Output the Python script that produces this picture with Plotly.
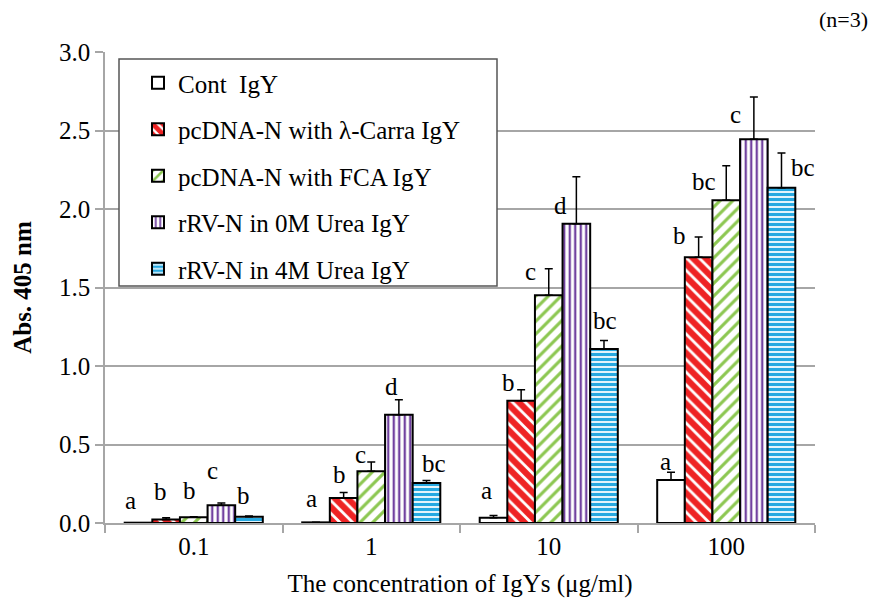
import plotly.graph_objects as go

categories = ["0.1", "1", "10", "100"]
series_names = ["Cont\u00a0 IgY", "pcDNA-N with \u03bb-Carra IgY", "pcDNA-N with FCA IgY",
                "rRV-N in 0M Urea IgY", "rRV-N in 4M Urea IgY"]

cont_vals = [0.002, 0.004, 0.034, 0.274]
cont_err = [0.0, 0.0, 0.013, 0.05]
carra_vals = [0.023, 0.159, 0.779, 1.692]
carra_err = [0.01, 0.035, 0.07, 0.13]
fca_vals = [0.036, 0.329, 1.45, 2.055]
fca_err = [0.004, 0.06, 0.17, 0.22]
urea0_vals = [0.113, 0.69, 1.906, 2.444]
urea0_err = [0.015, 0.095, 0.3, 0.27]
urea4_vals = [0.04, 0.255, 1.108, 2.136]
urea4_err = [0.004, 0.015, 0.055, 0.22]

# significance letters per series (rows) per category (cols)
letters = [
    ["a", "a", "a", "a"],
    ["b", "b", "b", "b"],
    ["b", "c", "c", "bc"],
    ["c", "d", "d", "c"],
    ["b", "bc", "bc", "bc"],
]
letter_y = [
    [0.146, 0.159, 0.206, 0.39],
    [0.2, 0.306, 0.894, 1.834],
    [0.204, 0.439, 1.6, 2.174],
    [0.333, 0.868, 2.02, 2.6],
    [0.178, 0.382, 1.287, 2.263],
]
letter_dx = [
    [-63.75, -59.5, -62, -60.5],
    [-33.75, -32, -40.75, -47],
    [-4.75, -11, -18.75, -22],
    [18.25, 20, 12, 9],
    [49.25, 63, 56, 77],
]

values = [cont_vals, carra_vals, fca_vals, urea0_vals, urea4_vals]
errors = [cont_err, carra_err, fca_err, urea0_err, urea4_err]

styles = [
    dict(shape="", fg="white", bg="white", solidity=0.3, size=9),
    dict(shape="\\", fg="#ee2324", bg="white", solidity=0.68, size=9),
    dict(shape="/", fg="#8cc751", bg="white", solidity=0.35, size=9),
    dict(shape="|", fg="#7141a0", bg="white", solidity=0.42, size=5.5),
    dict(shape="-", fg="#27a9e1", bg="white", solidity=0.65, size=5),
]

FONT = "Liberation Serif, Times New Roman, serif"
GRID = "#a6a6a6"
FS = 25

fig = go.Figure()
for i, name in enumerate(series_names):
    st = styles[i]
    marker = dict(color="white", line=dict(color="black", width=2))
    if st["shape"]:
        marker["pattern"] = dict(shape=st["shape"], fgcolor=st["fg"], bgcolor=st["bg"],
                                 solidity=st["solidity"], size=st["size"], fillmode="replace")
    fig.add_trace(go.Bar(
        x=categories, y=values[i], name=name, marker=marker,
        legendgroup=str(i),
        error_y=dict(type="data", array=errors[i], arrayminus=[0] * len(categories),
                     symmetric=False, color="black", thickness=1.5, width=4),
    ))

for i in range(len(series_names)):
    for j in range(len(categories)):
        fig.add_annotation(x=j, y=letter_y[i][j], text=letters[i][j], showarrow=False,
                           xref="x", yref="y", xshift=letter_dx[i][j],
                           xanchor="center", yanchor="middle",
                           font=dict(family=FONT, size=FS, color="black"))

fig.add_annotation(x=1.0, y=1.0, xref="paper", yref="paper", text="(n=3)",
                   showarrow=False, xanchor="left", yanchor="middle",
                   xshift=2, yshift=33, font=dict(family=FONT, size=22, color="black"))

# legend frame
fig.add_shape(type="rect", xref="paper", yref="paper",
              x0=(119 - 105) / 710, x1=(497 - 105) / 710,
              y0=(523 - 286) / 471, y1=(523 - 59) / 471,
              line=dict(color="#555555", width=1.5), fillcolor="white", layer="above")

fig.update_layout(
    width=880, height=612,
    margin=dict(l=105, r=65, t=52, b=89),
    paper_bgcolor="white", plot_bgcolor="white",
    barmode="group", bargap=0.222, bargroupgap=0,
    font=dict(family=FONT, size=FS, color="black"),
    showlegend=True,
    legend=dict(x=(138 - 105) / 710, y=(523 - 60) / 471, xanchor="left", yanchor="top",
                bgcolor="rgba(0,0,0,0)", borderwidth=0,
                font=dict(family=FONT, size=FS, color="black"),
                tracegroupgap=11, traceorder="grouped"),
    xaxis=dict(
        type="category", range=[-0.5, 3.5],
        showline=True, linecolor=GRID, linewidth=1.5,
        ticks="outside", tickson="boundaries", ticklen=8, tickcolor=GRID, tickwidth=1.5,
        tickfont=dict(family=FONT, size=FS),
        title=dict(text="The concentration of IgYs (\u03bcg/ml)", standoff=16,
                   font=dict(family=FONT, size=FS)),
        showgrid=False,
    ),
    yaxis=dict(
        range=[0, 3.0], dtick=0.5, tickformat=".1f",
        showline=True, linecolor=GRID, linewidth=1.5,
        ticks="outside", ticklen=8, tickcolor=GRID, tickwidth=1.5,
        showgrid=True, gridcolor=GRID, gridwidth=1.5,
        zeroline=False,
        tickfont=dict(family=FONT, size=FS),
        title=dict(text="<b>Abs. 405 nm</b>", standoff=20,
                   font=dict(family=FONT, size=FS)),
    ),
)

fig.write_html("out.html")
